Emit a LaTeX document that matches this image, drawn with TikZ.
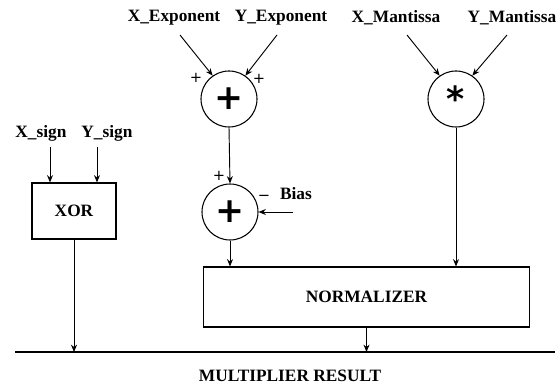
\documentclass[tikz,border=0pt]{standalone}
\usepackage{fontspec}
\setmainfont{Liberation Serif}
\newfontfamily\symfont{DejaVu Sans}
\usetikzlibrary{arrows.meta}
\begin{document}
\begin{tikzpicture}[x=0.75pt,y=-0.75pt,
  lbl/.style={font=\fontsize{13}{15}\selectfont\bfseries, inner sep=0pt},
  sgn/.style={font=\symfont\fontsize{11}{13}\selectfont, inner sep=0pt},
  op/.style={circle, draw, line width=0.8pt, minimum size=42pt, inner sep=0pt},
  opsym/.style={font=\symfont\fontsize{26}{26}\selectfont\bfseries},
  blk/.style={draw, line width=0.8pt, inner sep=0pt, font=\fontsize{13}{15}\selectfont\bfseries},
  conn/.style={line width=0.7pt, -{Stealth[length=5.5pt,width=4.5pt]}},
  plain/.style={line width=0.9pt}]
\useasboundingbox (0,0) rectangle (560,384);
% inputs
\node[lbl] (xe) at (174,18) {X\_Exponent};
\node[lbl] (ye) at (281,18) {Y\_Exponent};
\node[lbl] (xm) at (396,18) {X\_Mantissa};
\node[lbl] (ym) at (512,18) {Y\_Mantissa};
\node[lbl] (xs) at (41,133) {X\_sign};
\node[lbl] (ys) at (107,133) {Y\_sign};
% operators
\node[op, opsym] (add1) at (229,99) {+};
\node[op, opsym] (mul) at (456,99) {*};
\node[op, opsym] (add2) at (230,212) {+};
\node[blk, minimum width=63pt, minimum height=42pt] (xor) at (74,211) {XOR};
\node[blk, minimum width=245pt, minimum height=45pt] (norm) at (366.5,297) {NORMALIZER};
% coordinates
\coordinate (xeS) at (180,35);
\coordinate (yeS) at (277,35);
\coordinate (xmS) at (407,35);
\coordinate (ymS) at (507,35);
\coordinate (xsS) at (50,147);
\coordinate (ysS) at (97,147);
\coordinate (biasS) at (293,212);
\coordinate (busL) at (15,352);
\coordinate (busR) at (555,352);
% sign labels
\node[sgn] (p1) at (196,78) {+};
\node[sgn] (p2) at (259,79) {+};
\node[sgn] (p3) at (219,176) {+};
\node[sgn] (m1) at (264,198) {−};
\node[lbl] (bias) at (296,194) {Bias};
% connectors
\draw[conn] (xeS) -- (add1.125);
\draw[conn] (yeS) -- (add1.55);
\draw[conn] (xmS) -- (mul.125);
\draw[conn] (ymS) -- (mul.55);
\draw[conn] (xsS) -- (xsS |- xor.north);
\draw[conn] (ysS) -- (ysS |- xor.north);
\draw[conn] (add1.south) -- (add2.north);
\draw[conn] (biasS) -- (add2.east);
\draw[conn] (add2.south) -- (add2.south |- norm.north);
\draw[conn] (mul.south) -- (mul.south |- norm.north);
\draw[plain] (busL) -- (busR);
\draw[conn] (xor.south) -- (xor.south |- busL);
\draw[conn] (norm.south) -- (norm.south |- busL);
\node[lbl] (res) at (290,376) {MULTIPLIER RESULT};
\end{tikzpicture}
\end{document}
